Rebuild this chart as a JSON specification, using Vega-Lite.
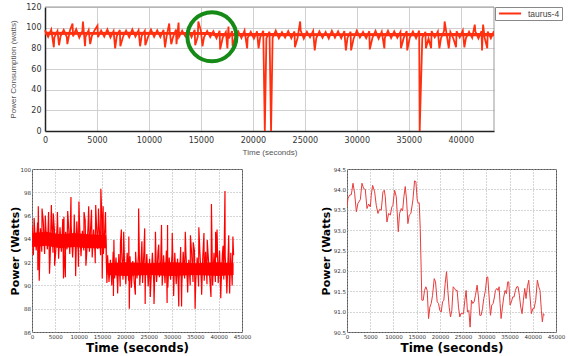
{
  "$schema": "https://vega.github.io/schema/vega-lite/v6.json",
  "padding": {"left": 8, "top": 3, "right": 0, "bottom": 0},
  "background": "white",
  "config": {
    "axis": {"labelFont": "DejaVu Sans", "labelFontSize": 5.5, "labelColor": "#333", "titleFont": "DejaVu Sans", "titleFontSize": 12, "titleFontWeight": "bold", "titleColor": "#000", "grid": true, "gridDash": [1, 2], "gridColor": "#aaa", "domain": false, "ticks": false, "labelPadding": 2, "labelFlush": false, "labelOverlap": false}
  },
  "datasets": {
    "top": [
      {"t":0,"p":97.5},{"t":300,"p":91.2},{"t":600,"p":98.2},{"t":900,"p":90.6},{"t":1200,"p":96.8},{"t":1500,"p":91.8},{"t":1800,"p":97.9},{"t":2100,"p":90.9},{"t":2400,"p":97.2},{"t":2700,"p":91.5},
      {"t":3000,"p":98.5},{"t":3300,"p":90.4},{"t":3600,"p":96.9},{"t":3900,"p":91.1},{"t":4200,"p":97.6},{"t":4500,"p":91.7},{"t":4800,"p":98.0},{"t":5100,"p":90.8},{"t":5400,"p":97.3},{"t":5700,"p":91.3},
      {"t":6000,"p":98.4},{"t":6300,"p":90.5},{"t":6600,"p":96.7},{"t":6900,"p":91.6},{"t":7200,"p":97.8},{"t":7500,"p":91.0},{"t":7800,"p":97.1},{"t":8100,"p":90.7},{"t":8400,"p":98.3},{"t":8700,"p":91.4},
      {"t":9000,"p":97.5},{"t":9300,"p":91.9},{"t":9600,"p":96.9},{"t":9900,"p":90.6},{"t":10200,"p":98.1},{"t":10500,"p":91.2},{"t":10800,"p":97.4},{"t":11100,"p":90.9},{"t":11400,"p":97.8},{"t":11700,"p":91.5},
      {"t":12000,"p":96.6},{"t":12300,"p":90.3},{"t":12600,"p":98.2},{"t":12900,"p":91.1},{"t":13200,"p":97.0},{"t":13500,"p":91.6},{"t":13800,"p":97.7},{"t":14100,"p":90.8},{"t":14400,"p":98.0},{"t":14700,"p":91.3},
      {"t":15000,"p":97.2},{"t":15300,"p":90.7},{"t":15600,"p":96.8},{"t":15900,"p":91.0},
      {"t":16200,"p":96.5},{"t":16500,"p":89.8},{"t":16800,"p":97.0},{"t":17100,"p":90.3},{"t":17400,"p":95.8},{"t":17700,"p":89.5},{"t":18000,"p":96.7},{"t":18300,"p":90.6},{"t":18600,"p":96.2},{"t":18900,"p":89.9},
      {"t":19200,"p":97.3},{"t":19500,"p":90.1},{"t":19800,"p":95.9},{"t":20100,"p":89.4},{"t":20400,"p":96.4},{"t":20700,"p":90.5},{"t":21000,"p":96.9},{"t":21300,"p":89.7},{"t":21600,"p":96.1},{"t":21900,"p":90.2},
      {"t":22200,"p":97.1},{"t":22500,"p":89.6},{"t":22800,"p":95.7},{"t":23100,"p":90.4},{"t":23400,"p":96.6},{"t":23700,"p":89.8},{"t":24000,"p":96.3},{"t":24300,"p":90.0},{"t":24600,"p":97.2},{"t":24900,"p":89.3},
      {"t":25200,"p":96.0},{"t":25500,"p":90.6},{"t":25800,"p":96.8},{"t":26100,"p":89.9},{"t":26400,"p":96.5},{"t":26700,"p":90.2},{"t":27000,"p":95.9},{"t":27300,"p":89.5},{"t":27600,"p":97.0},{"t":27900,"p":90.3},
      {"t":28200,"p":96.4},{"t":28500,"p":89.7},{"t":28800,"p":96.7},{"t":29100,"p":90.1},{"t":29400,"p":96.1},{"t":29700,"p":89.6},{"t":30000,"p":97.2},{"t":30300,"p":90.5},{"t":30600,"p":95.8},{"t":30900,"p":89.8},
      {"t":31200,"p":96.6},{"t":31500,"p":90.0},{"t":31800,"p":96.9},{"t":32100,"p":89.4},{"t":32400,"p":96.2},{"t":32700,"p":90.3},{"t":33000,"p":97.0},{"t":33300,"p":89.9},{"t":33600,"p":96.5},{"t":33900,"p":90.2},
      {"t":34200,"p":95.9},{"t":34500,"p":89.6},{"t":34800,"p":96.8},{"t":35100,"p":90.4},{"t":35400,"p":96.3},{"t":35700,"p":89.7},{"t":36000,"p":97.1},{"t":36300,"p":90.1},{"t":36600,"p":96.0},{"t":36900,"p":89.5},
      {"t":37200,"p":96.7},{"t":37500,"p":90.6},{"t":37800,"p":96.4},{"t":38100,"p":89.8},{"t":38400,"p":96.9},{"t":38700,"p":90.0},{"t":39000,"p":95.8},{"t":39300,"p":89.3},{"t":39600,"p":96.6},{"t":39900,"p":90.5},
      {"t":40200,"p":97.2},{"t":40500,"p":89.9},{"t":40800,"p":96.1},{"t":41100,"p":90.2},{"t":41400,"p":96.5},{"t":41700,"p":89.6},{"t":42000,"p":96.8},{"t":42300,"p":90.3},{"t":42600,"p":96.2},{"t":42900,"p":89.8},
      {"t":43200,"p":96.7},
      {"t":850,"p":81},{"t":1350,"p":83},{"t":2150,"p":84},{"t":3850,"p":82},{"t":4350,"p":84},{"t":6750,"p":80},{"t":7250,"p":82},{"t":9150,"p":82},{"t":9650,"p":83},{"t":11550,"p":81},
      {"t":12150,"p":84},{"t":12650,"p":84},{"t":14450,"p":83},{"t":15150,"p":82},{"t":16850,"p":79},{"t":17550,"p":80},{"t":18050,"p":82},{"t":19450,"p":80},{"t":20550,"p":80},{"t":21150,"p":0},
      {"t":21750,"p":0},{"t":24050,"p":81},{"t":25950,"p":78},{"t":28950,"p":78},{"t":29450,"p":78},{"t":31250,"p":79},{"t":32650,"p":80},{"t":34250,"p":80},{"t":34850,"p":78},{"t":36050,"p":0},
      {"t":36650,"p":80},{"t":37150,"p":80},{"t":37950,"p":80},{"t":38850,"p":80},{"t":39550,"p":81},{"t":40350,"p":81},{"t":42050,"p":78},{"t":42550,"p":80},
      {"t":2650,"p":104},{"t":3650,"p":106},{"t":5050,"p":102},{"t":11950,"p":104},{"t":12850,"p":105},{"t":14750,"p":106},{"t":17650,"p":101},{"t":24550,"p":106},{"t":38450,"p":106},{"t":41350,"p":103},{"t":42150,"p":103}
    ],
    "topcore": [
      {"t":0,"lo":93.0,"hi":96.0},{"t":4000,"lo":93.2,"hi":95.8},{"t":8000,"lo":93.0,"hi":96.1},{"t":12000,"lo":93.2,"hi":95.9},{"t":15900,"lo":93.0,"hi":95.8},
      {"t":16300,"lo":91.8,"hi":94.8},{"t":22000,"lo":91.6,"hi":94.9},{"t":28000,"lo":91.9,"hi":94.7},{"t":34000,"lo":91.7,"hi":94.9},{"t":40000,"lo":91.8,"hi":94.8},{"t":43200,"lo":91.7,"hi":94.9}
    ],
    "bl": [
      {"t":0,"p":95.1},{"t":300,"p":92.6},{"t":600,"p":94.6},{"t":900,"p":93.0},{"t":1200,"p":95.4},{"t":1500,"p":92.4},{"t":1800,"p":94.9},{"t":2100,"p":92.9},{"t":2400,"p":95.6},{"t":2700,"p":92.7},
      {"t":3000,"p":94.7},{"t":3300,"p":93.1},{"t":3600,"p":95.2},{"t":3900,"p":92.5},{"t":4200,"p":95.8},{"t":4500,"p":92.8},{"t":4800,"p":94.8},{"t":5100,"p":93.0},{"t":5400,"p":95.3},{"t":5700,"p":92.3},
      {"t":6000,"p":95.0},{"t":6300,"p":92.9},{"t":6600,"p":95.7},{"t":6900,"p":92.6},{"t":7200,"p":94.6},{"t":7500,"p":93.1},{"t":7800,"p":95.4},{"t":8100,"p":92.7},{"t":8400,"p":95.1},{"t":8700,"p":92.4},
      {"t":9000,"p":94.9},{"t":9300,"p":92.9},{"t":9600,"p":95.5},{"t":9900,"p":92.8},{"t":10200,"p":95.2},{"t":10500,"p":92.5},{"t":10800,"p":94.7},{"t":11100,"p":93.0},{"t":11400,"p":95.6},{"t":11700,"p":92.6},
      {"t":12000,"p":95.0},{"t":12300,"p":92.9},{"t":12600,"p":95.3},{"t":12900,"p":92.4},{"t":13200,"p":94.8},{"t":13500,"p":92.8},{"t":13800,"p":95.4},{"t":14100,"p":93.1},{"t":14400,"p":95.1},{"t":14700,"p":92.6},
      {"t":15000,"p":95.7},{"t":15300,"p":92.7},{"t":15600,"p":94.9},{"t":15900,"p":92.5},
      {"t":16200,"p":92.6},{"t":16500,"p":90.3},{"t":16800,"p":92.2},{"t":17100,"p":90.0},{"t":17400,"p":92.9},{"t":17700,"p":90.6},{"t":18000,"p":92.4},{"t":18300,"p":90.2},{"t":18600,"p":92.7},{"t":18900,"p":89.9},
      {"t":19200,"p":93.0},{"t":19500,"p":90.5},{"t":19800,"p":92.3},{"t":20100,"p":90.1},{"t":20400,"p":92.8},{"t":20700,"p":90.4},{"t":21000,"p":92.5},{"t":21300,"p":89.8},{"t":21600,"p":92.1},{"t":21900,"p":90.3},
      {"t":22200,"p":92.9},{"t":22500,"p":90.6},{"t":22800,"p":92.6},{"t":23100,"p":90.0},{"t":23400,"p":92.4},{"t":23700,"p":90.2},{"t":24000,"p":93.1},{"t":24300,"p":90.5},{"t":24600,"p":92.7},{"t":24900,"p":89.9},
      {"t":25200,"p":92.3},{"t":25500,"p":90.4},{"t":25800,"p":92.8},{"t":26100,"p":90.1},{"t":26400,"p":92.5},{"t":26700,"p":90.3},{"t":27000,"p":92.9},{"t":27300,"p":90.7},{"t":27600,"p":92.2},{"t":27900,"p":90.0},
      {"t":28200,"p":92.6},{"t":28500,"p":90.2},{"t":28800,"p":93.0},{"t":29100,"p":89.8},{"t":29400,"p":92.4},{"t":29700,"p":90.5},{"t":30000,"p":92.7},{"t":30300,"p":90.3},{"t":30600,"p":92.8},{"t":30900,"p":90.1},
      {"t":31200,"p":92.3},{"t":31500,"p":90.4},{"t":31800,"p":92.5},{"t":32100,"p":89.9},{"t":32400,"p":92.9},{"t":32700,"p":90.6},{"t":33000,"p":92.6},{"t":33300,"p":90.2},{"t":33600,"p":92.2},{"t":33900,"p":90.0},
      {"t":34200,"p":92.8},{"t":34500,"p":90.3},{"t":34800,"p":93.0},{"t":35100,"p":90.5},{"t":35400,"p":92.4},{"t":35700,"p":89.9},{"t":36000,"p":92.7},{"t":36300,"p":90.2},{"t":36600,"p":92.5},{"t":36900,"p":90.4},
      {"t":37200,"p":92.9},{"t":37500,"p":90.1},{"t":37800,"p":92.3},{"t":38100,"p":90.6},{"t":38400,"p":92.6},{"t":38700,"p":90.0},{"t":39000,"p":92.8},{"t":39300,"p":90.3},{"t":39600,"p":92.4},{"t":39900,"p":90.2},
      {"t":40200,"p":93.0},{"t":40500,"p":89.8},{"t":40800,"p":92.7},{"t":41100,"p":90.5},{"t":41400,"p":92.5},{"t":41700,"p":90.1},{"t":42000,"p":92.2},{"t":42300,"p":90.4},{"t":42600,"p":92.8},{"t":42900,"p":90.0},
      {"t":43200,"p":92.6},
      {"t":1350,"p":96.8},{"t":2150,"p":96.6},{"t":3550,"p":96.3},{"t":4150,"p":96.9},{"t":5450,"p":96.3},{"t":6850,"p":95.9},{"t":8350,"p":97.6},{"t":10050,"p":97.2},{"t":11150,"p":96.3},{"t":12150,"p":96.8},
      {"t":13650,"p":96.9},{"t":14750,"p":98.3},{"t":15250,"p":96.8},{"t":15750,"p":96.3},{"t":450,"p":95.8},{"t":2850,"p":96.0},{"t":4550,"p":96.2},{"t":7650,"p":96.4},{"t":9050,"p":96.1},{"t":12750,"p":96.5},{"t":14250,"p":96.6},
      {"t":1250,"p":91.3},{"t":1550,"p":90.4},{"t":3750,"p":91.0},{"t":4850,"p":91.7},{"t":6750,"p":90.6},{"t":7150,"p":90.7},{"t":9350,"p":90.8},{"t":9950,"p":91.6},{"t":11550,"p":91.7},{"t":13550,"p":91.9},{"t":15050,"p":90.6},{"t":16050,"p":90.2},
      {"t":17550,"p":93.9},{"t":19150,"p":94.8},{"t":19650,"p":94.6},{"t":20750,"p":94.2},{"t":22850,"p":96.6},{"t":24150,"p":94.9},{"t":26450,"p":94.6},{"t":27750,"p":95.2},{"t":29050,"p":95.2},{"t":30050,"p":94.5},
      {"t":31850,"p":93.3},{"t":32850,"p":94.6},{"t":33950,"p":94.3},{"t":35750,"p":95.0},{"t":36850,"p":94.5},{"t":38450,"p":97.0},{"t":39350,"p":94.6},{"t":39650,"p":94.8},{"t":41350,"p":98.1},{"t":42150,"p":94.3},{"t":43050,"p":94.2},
      {"t":18950,"p":93.6},{"t":23550,"p":93.8},{"t":27150,"p":93.5},{"t":34550,"p":93.7},{"t":37550,"p":93.9},{"t":40950,"p":93.4},
      {"t":17450,"p":89.1},{"t":20850,"p":88.0},{"t":24250,"p":88.4},{"t":26150,"p":88.4},{"t":28950,"p":88.5},{"t":31450,"p":88.2},{"t":32050,"p":88.2},{"t":34950,"p":88.0},{"t":38350,"p":89.0},{"t":40450,"p":88.9},{"t":42350,"p":89.3},
      {"t":18350,"p":89.3},{"t":22150,"p":89.2},{"t":25350,"p":89.0},{"t":30350,"p":89.1},{"t":33350,"p":89.4},{"t":36350,"p":89.2},{"t":41750,"p":89.3}
    ],
    "blcore": [
      {"t":0,"lo":93.3,"hi":94.5},{"t":3000,"lo":93.4,"hi":94.6},{"t":6000,"lo":93.2,"hi":94.4},{"t":9000,"lo":93.3,"hi":94.5},{"t":12000,"lo":93.2,"hi":94.4},{"t":15900,"lo":93.2,"hi":94.3},
      {"t":16200,"lo":90.9,"hi":91.9},{"t":20000,"lo":90.8,"hi":92.0},{"t":25000,"lo":90.9,"hi":91.9},{"t":30000,"lo":90.8,"hi":92.0},{"t":35000,"lo":90.9,"hi":91.9},{"t":40000,"lo":90.8,"hi":92.0},{"t":43200,"lo":90.9,"hi":91.9}
    ],
    "br": [
      {"t":0,"p":93.57},{"t":215,"p":93.78},{"t":570,"p":93.86},{"t":930,"p":93.87},{"t":1290,"p":94.15},{"t":1650,"p":93.9},{"t":2010,"p":93.45},{"t":2360,"p":93.66},{"t":2870,"p":93.75},{"t":3220,"p":94.15},
      {"t":3580,"p":94.02},{"t":3940,"p":94.0},{"t":4300,"p":93.53},{"t":4660,"p":93.64},{"t":5020,"p":93.57},{"t":5230,"p":93.86},{"t":5520,"p":94.1},{"t":5950,"p":93.94},{"t":6300,"p":93.61},{"t":6660,"p":93.41},
      {"t":7020,"p":93.51},{"t":7380,"p":93.49},{"t":7740,"p":93.94},{"t":8030,"p":93.98},{"t":8240,"p":93.82},{"t":8600,"p":93.2},{"t":8960,"p":93.41},{"t":9320,"p":93.37},{"t":9670,"p":93.57},{"t":9890,"p":93.61},
      {"t":10250,"p":93.98},{"t":10610,"p":93.82},{"t":11040,"p":92.96},{"t":11320,"p":93.41},{"t":11680,"p":93.53},{"t":11970,"p":93.47},{"t":12250,"p":93.82},{"t":12540,"p":94.07},{"t":12830,"p":93.74},{"t":13110,"p":93.16},
      {"t":13400,"p":93.37},{"t":13760,"p":93.41},{"t":14190,"p":93.74},{"t":14550,"p":94.21},{"t":14830,"p":94.19},{"t":15120,"p":93.74},{"t":15340,"p":93.66},{"t":15550,"p":93.67},{"t":15770,"p":93.04},{"t":16120,"p":91.28},
      {"t":16410,"p":91.28},{"t":16700,"p":91.52},{"t":16980,"p":91.61},{"t":17270,"p":91.52},{"t":17560,"p":90.83},{"t":17840,"p":91.11},{"t":18130,"p":91.2},{"t":18420,"p":91.4},{"t":18780,"p":91.81},{"t":19060,"p":91.73},
      {"t":19420,"p":91.24},{"t":19710,"p":91.2},{"t":19990,"p":91.03},{"t":20280,"p":90.99},{"t":20570,"p":91.24},{"t":20850,"p":91.28},{"t":21140,"p":91.69},{"t":21430,"p":91.98},{"t":21710,"p":91.52},{"t":22000,"p":91.11},
      {"t":22290,"p":90.87},{"t":22570,"p":91.03},{"t":22860,"p":91.61},{"t":23150,"p":91.57},{"t":23430,"p":91.52},{"t":23720,"p":91.52},{"t":24010,"p":91.11},{"t":24290,"p":90.87},{"t":24510,"p":90.95},{"t":24800,"p":90.95},
      {"t":25080,"p":90.95},{"t":25370,"p":91.28},{"t":25650,"p":91.52},{"t":25940,"p":90.99},{"t":26230,"p":91.03},{"t":26510,"p":90.62},{"t":26800,"p":91.28},{"t":27090,"p":91.2},{"t":27370,"p":91.24},{"t":27660,"p":91.4},
      {"t":28020,"p":91.65},{"t":28310,"p":91.36},{"t":28590,"p":90.91},{"t":28880,"p":90.91},{"t":29170,"p":91.07},{"t":29450,"p":91.32},{"t":29810,"p":91.52},{"t":30100,"p":91.85},{"t":30310,"p":91.85},{"t":30600,"p":91.36},
      {"t":30890,"p":90.91},{"t":31170,"p":91.16},{"t":31460,"p":91.2},{"t":31750,"p":91.36},{"t":31960,"p":91.52},{"t":32250,"p":91.57},{"t":32530,"p":91.52},{"t":32750,"p":91.61},{"t":32960,"p":91.2},{"t":33180,"p":90.83},
      {"t":33470,"p":91.11},{"t":33750,"p":91.36},{"t":34040,"p":91.52},{"t":34320,"p":91.44},{"t":34610,"p":91.73},{"t":34830,"p":91.73},{"t":35110,"p":91.16},{"t":35400,"p":91.24},{"t":35690,"p":91.36},{"t":35970,"p":91.36},
      {"t":36260,"p":91.52},{"t":36550,"p":91.61},{"t":36830,"p":91.61},{"t":37120,"p":91.4},{"t":37410,"p":91.11},{"t":37690,"p":90.95},{"t":37980,"p":91.28},{"t":38270,"p":91.57},{"t":38550,"p":91.32},{"t":38840,"p":91.61},
      {"t":39130,"p":91.77},{"t":39410,"p":91.36},{"t":39700,"p":90.95},{"t":39990,"p":91.07},{"t":40270,"p":91.07},{"t":40630,"p":91.28},{"t":40990,"p":91.77},{"t":41280,"p":91.61},{"t":41560,"p":91.52},{"t":41850,"p":91.03},
      {"t":42060,"p":90.75},{"t":42280,"p":90.95},{"t":42490,"p":90.91}
    ],
    "frame": [
      {"t":0,"t2":43200,"p":120,"p2":120},{"t":43200,"t2":43200,"p":0,"p2":120}
    ]
  },
  "resolve": {"scale": {"color": "independent"}, "legend": {"color": "independent"}},
  "spacing": 10,
  "vconcat": [
    {
      "width": 462,
      "height": 124,
      "view": {"stroke": null},
      "encoding": {
        "x": {"field": "t", "type": "quantitative", "scale": {"domain": [0, 43200], "nice": false, "zero": false, "range": [13, 462]},
          "axis": {"values": [0, 5000, 10000, 15000, 20000, 25000, 30000, 35000, 40000], "tickCount": 20, "format": "d", "title": "Time (seconds)", "labelFont": "DejaVu Sans", "labelFontSize": 8, "labelColor": "#333", "labelPadding": 5, "labelOverlap": false, "titleFont": "Liberation Sans", "titleFontSize": 8, "titleFontWeight": "normal", "titleColor": "#555", "titlePadding": 4, "gridDash": [], "gridColor": "#d0d0d0", "domain": true, "domainColor": "#222", "domainWidth": 1.5}},
        "y": {"field": "p", "type": "quantitative", "scale": {"domain": [0, 120], "nice": false},
          "axis": {"values": [0, 20, 40, 60, 80, 100, 120], "tickCount": 20, "format": "d", "offset": -13, "title": "Power Consumption (watts)", "labelFont": "DejaVu Sans", "labelFontSize": 8, "labelColor": "#333", "labelPadding": 4, "labelOverlap": false, "titleFont": "Liberation Sans", "titleFontSize": 8, "titleFontWeight": "normal", "titleColor": "#555", "titlePadding": 8, "gridDash": [], "gridColor": "#d0d0d0", "domain": true, "domainColor": "#222", "domainWidth": 1.5}}
      },
      "layer": [
        {
          "data": {"name": "frame"},
          "mark": {"type": "rule", "color": "#999", "strokeWidth": 1},
          "encoding": {"x2": {"field": "t2"}, "y2": {"field": "p2"}}
        },
        {
          "data": {"name": "topcore"},
          "mark": {"type": "area", "color": "#ff3010", "opacity": 1},
          "encoding": {"y": {"field": "lo", "type": "quantitative"}, "y2": {"field": "hi"}}
        },
        {
          "data": {"name": "top"},
          "mark": {"type": "line", "strokeWidth": 1.8, "clip": true},
          "encoding": {
            "color": {"datum": "taurus-4", "type": "nominal", "scale": {"range": ["#ff3010"]},
              "legend": {"orient": "right", "offset": 1, "title": null, "strokeColor": "#888", "padding": 2, "symbolType": "M-0.7,0H5.6", "symbolSize": 49, "symbolStrokeWidth": 2, "labelFont": "Liberation Sans", "labelFontSize": 8.5, "labelColor": "#444", "labelOffset": 22}}
          }
        },
        {
          "data": {"values": [{"t": 16060, "p": 91.2}]},
          "mark": {"type": "point", "shape": "circle", "size": 2400, "filled": false, "stroke": "#168a16", "strokeWidth": 4, "opacity": 1},
          "encoding": {}
        }
      ]
    },
    {
      "spacing": 67,
      "hconcat": [
        {
          "width": 210,
          "height": 163,
          "view": {"stroke": "#555", "strokeWidth": 1},
          "encoding": {
            "x": {"field": "t", "type": "quantitative", "scale": {"domain": [0, 45000], "nice": false}, "axis": {"values": [0, 5000, 10000, 15000, 20000, 25000, 30000, 35000, 40000, 45000], "tickCount": 20, "format": "d", "labelOverlap": false, "title": "Time (seconds)", "titlePadding": 2.5}},
            "y": {"field": "p", "type": "quantitative", "scale": {"domain": [86, 100], "nice": false, "zero": false}, "axis": {"values": [86, 88, 90, 92, 94, 96, 98, 100], "tickCount": 20, "format": "d", "labelOverlap": false, "title": "Power (Watts)", "titleFontSize": 11, "titlePadding": 0, "labelPadding": 1.5}}
          },
          "layer": [
            {
              "data": {"name": "blcore"},
              "mark": {"type": "area", "color": "#ff0000", "opacity": 1},
              "encoding": {"y": {"field": "lo", "type": "quantitative"}, "y2": {"field": "hi"}}
            },
            {
              "data": {"name": "bl"},
              "mark": {"type": "line", "strokeWidth": 1.2, "color": "#ff0000", "clip": true},
              "encoding": {}
            }
          ]
        },
        {
          "width": 209,
          "height": 163,
          "view": {"stroke": "#555", "strokeWidth": 1},
          "data": {"name": "br"},
          "mark": {"type": "line", "strokeWidth": 1, "color": "#e83c3c", "clip": true},
          "encoding": {
            "x": {"field": "t", "type": "quantitative", "scale": {"domain": [0, 45000], "nice": false}, "axis": {"values": [0, 5000, 10000, 15000, 20000, 25000, 30000, 35000, 40000, 45000], "tickCount": 20, "format": "d", "labelOverlap": false, "title": "Time (seconds)", "titlePadding": 2.5}},
            "y": {"field": "p", "type": "quantitative", "scale": {"domain": [90.5, 94.5], "nice": false, "zero": false}, "axis": {"values": [90.5, 91, 91.5, 92, 92.5, 93, 93.5, 94, 94.5], "tickCount": 20, "format": ".1f", "labelOverlap": false, "title": "Power (Watts)", "titleFontSize": 11, "titlePadding": 2, "labelPadding": 1.5}}
          }
        }
      ]
    }
  ]
}
